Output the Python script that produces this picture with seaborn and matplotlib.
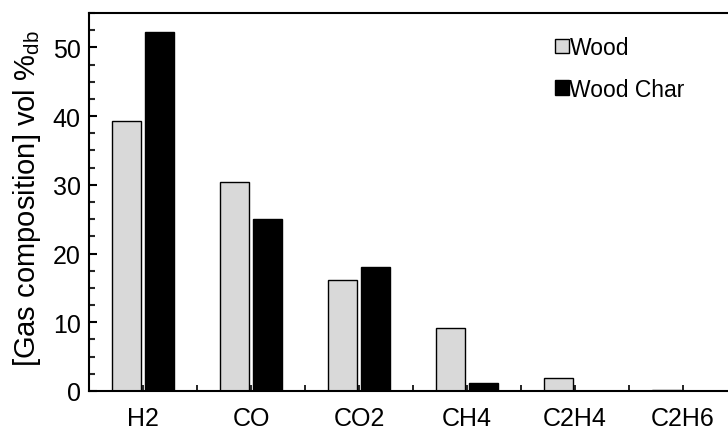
import pandas as pd
import seaborn as sns
import matplotlib
matplotlib.use("Agg")
import matplotlib.pyplot as plt
from matplotlib.ticker import MultipleLocator

gases = ['H2', 'CO', 'CO2', 'CH4', 'C2H4', 'C2H6']
wood = [39.3, 30.4, 16.2, 9.2, 1.85, 0.15]
wood_char = [52.2, 25.0, 18.1, 1.2, 0.0, 0.0]
fuels = ['Wood', 'Wood Char']


def gas_composition_bars():
    df = pd.DataFrame({
        'gas': gases * 2,
        'fuel': ['Wood'] * len(gases) + ['Wood Char'] * len(gases),
        'value': wood + wood_char,
    })

    sns.set_style('ticks')
    plt.rcParams['font.family'] = ['Liberation Sans', 'DejaVu Sans']
    plt.rcParams['mathtext.default'] = 'regular'
    plt.rcParams['text.color'] = 'black'
    plt.rcParams['axes.labelcolor'] = 'black'

    fig = plt.figure(figsize=(7.28, 4.35), dpi=100)
    # plot area runs past the right edge, like the cropped original
    ax = fig.add_axes([89 / 728, 1 - 392 / 435, 648 / 728, 378 / 435])

    sns.barplot(data=df, x='gas', y='value', hue='fuel', hue_order=fuels, order=gases,
                palette={'Wood': '#d9d9d9', 'Wood Char': 'black'},
                edgecolor='black', linewidth=1.0, width=0.6, gap=0.1,
                errorbar=None, ax=ax)

    ax.set_xlim(-0.5, 5.5)
    ax.set_ylim(0, 55)
    ax.yaxis.set_major_locator(MultipleLocator(10))
    ax.yaxis.set_minor_locator(MultipleLocator(2.5))
    ax.xaxis.set_minor_locator(MultipleLocator(0.5))

    ax.tick_params(axis='y', which='major', direction='in', length=6, width=1.5,
                   labelsize=18, pad=6, colors='black')
    ax.tick_params(axis='y', which='minor', direction='in', length=4, width=1.5)
    ax.tick_params(axis='x', which='both', direction='in', length=4, width=1.2,
                   labelsize=18, pad=11, colors='black')

    for side in ['left', 'top', 'bottom']:
        ax.spines[side].set_linewidth(1.5)
        ax.spines[side].set_color('black')
    ax.spines['right'].set_visible(False)

    ax.set_xlabel('')
    ax.set_ylabel('[Gas composition] vol %$_{db}$', fontsize=21, color='black')
    ax.yaxis.set_label_coords(-0.095, 0.51)
    ax.yaxis.label.set_va('center')

    ax.legend(loc='upper left', bbox_to_anchor=(555 / 728, 1 - 37 / 435),
              bbox_transform=fig.transFigure, frameon=False, fontsize=16.5,
              labelcolor='black',
              handlelength=0.6, handleheight=0.6, handletextpad=0.03,
              labelspacing=0.82, borderaxespad=0, borderpad=0)

    fig.savefig('out.png', dpi=100)


def main():
    gas_composition_bars()


if (__name__ == '__main__'):
    main()
